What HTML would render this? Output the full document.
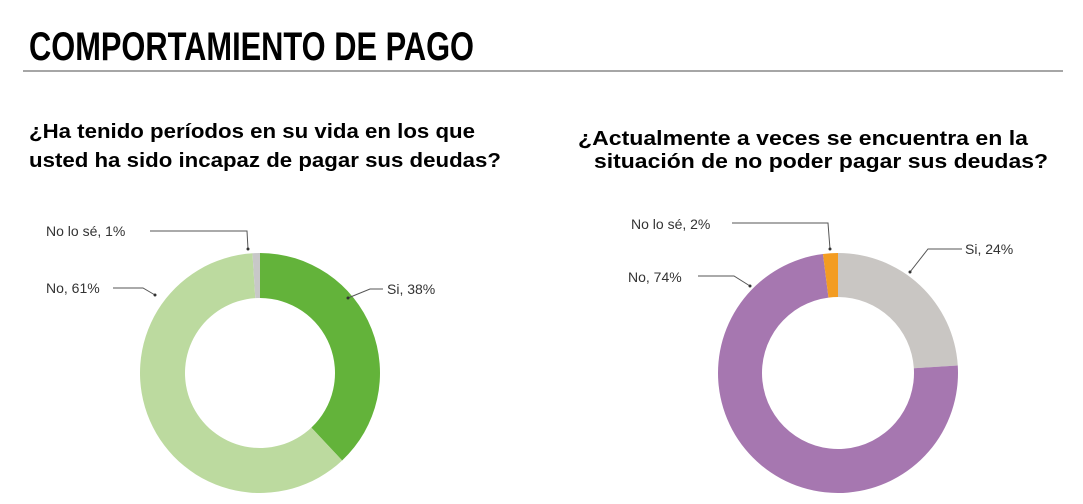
<!DOCTYPE html>
<html><head><meta charset="utf-8"><style>
body{margin:0;background:#fff;width:1083px;height:504px;overflow:hidden;font-family:"Liberation Sans",sans-serif}
svg{position:absolute;left:0;top:0}
</style></head><body>
<svg width="1083" height="504">
<text x="29" y="60" font-family="Liberation Sans Narrow, Liberation Sans, sans-serif" font-weight="bold" font-size="40" textLength="445" lengthAdjust="spacingAndGlyphs" fill="#000">COMPORTAMIENTO DE PAGO</text>
<line x1="23" y1="71" x2="1063" y2="71" stroke="#888" stroke-width="1.5"/>
<g font-weight="bold" font-size="20" fill="#000">
<text x="29" y="138" textLength="446" lengthAdjust="spacingAndGlyphs">¿Ha tenido períodos en su vida en los que</text>
<text x="29" y="167" textLength="472" lengthAdjust="spacingAndGlyphs">usted ha sido incapaz de pagar sus deudas?</text>
</g>
<g font-weight="bold" font-size="20" fill="#000">
<text x="578" y="145" textLength="450" lengthAdjust="spacingAndGlyphs">¿Actualmente a veces se encuentra en la</text>
<text x="594" y="168" textLength="454" lengthAdjust="spacingAndGlyphs">situación de no poder pagar sus deudas?</text>
</g>
<g id="left"></g><g id="right"></g>
<g fill="none" stroke="#555" stroke-width="1">
<polyline points="150,231 247,231 248,249"/><polyline points="113,288 143,288 155,295"/><polyline points="383,289 370,289 348,298"/>
<polyline points="732,223 828,223 830,249"/><polyline points="962,249 928,249 910,272"/><polyline points="698,276 734,276 750,286"/>
</g>
<g fill="#333">
<circle cx="248" cy="249" r="1.5"/><circle cx="155" cy="295" r="1.5"/><circle cx="348" cy="298" r="1.5"/>
<circle cx="830" cy="249" r="1.5"/><circle cx="910" cy="272" r="1.5"/><circle cx="750" cy="286" r="1.5"/>
</g>
<g font-size="14" fill="#333">
<text x="46" y="236">No lo sé, 1%</text><text x="46" y="293">No, 61%</text><text x="387" y="294">Si, 38%</text>
<text x="631" y="229">No lo sé, 2%</text><text x="965" y="254">Si, 24%</text><text x="628" y="282">No, 74%</text>
</g>
</svg>
<script>
const leftCategories=["Si","No","No lo sé"];
const leftValues=[38,61,1];
const rightCategories=["Si","No","No lo sé"];
const rightValues=[24,74,2];
const leftColors=["#63b33a","#bcda9f","#c8c8c8"];
const rightColors=["#c9c6c3","#a677b0","#f39c22"];
function donut(gid,cx,cy,R,r,cats,vals,cols){
  const g=document.getElementById(gid);
  
  
  const tot=vals.reduce((a,b)=>a+b,0);let a0=0;
  vals.forEach((v,i)=>{
    const a1=a0+v/tot*2*Math.PI;
    const p=(a,rad)=>[cx+rad*Math.sin(a),cy-rad*Math.cos(a)];
    const [x1,y1]=p(a0,R),[x2,y2]=p(a1,R),[x3,y3]=p(a1,r),[x4,y4]=p(a0,r);
    const lg=(a1-a0)>Math.PI?1:0;
    const path=document.createElementNS('http://www.w3.org/2000/svg','path');
    path.setAttribute('d',`M${x1},${y1}A${R},${R} 0 ${lg} 1 ${x2},${y2}L${x3},${y3}A${r},${r} 0 ${lg} 0 ${x4},${y4}Z`);
    path.setAttribute('fill',cols[i]);
    
    
    g.appendChild(path);a0=a1;
  });
}
donut('left',260,373,120,75,leftCategories,leftValues,leftColors);
donut('right',838,373,120,76,rightCategories,rightValues,rightColors);
</script>
</body></html>
